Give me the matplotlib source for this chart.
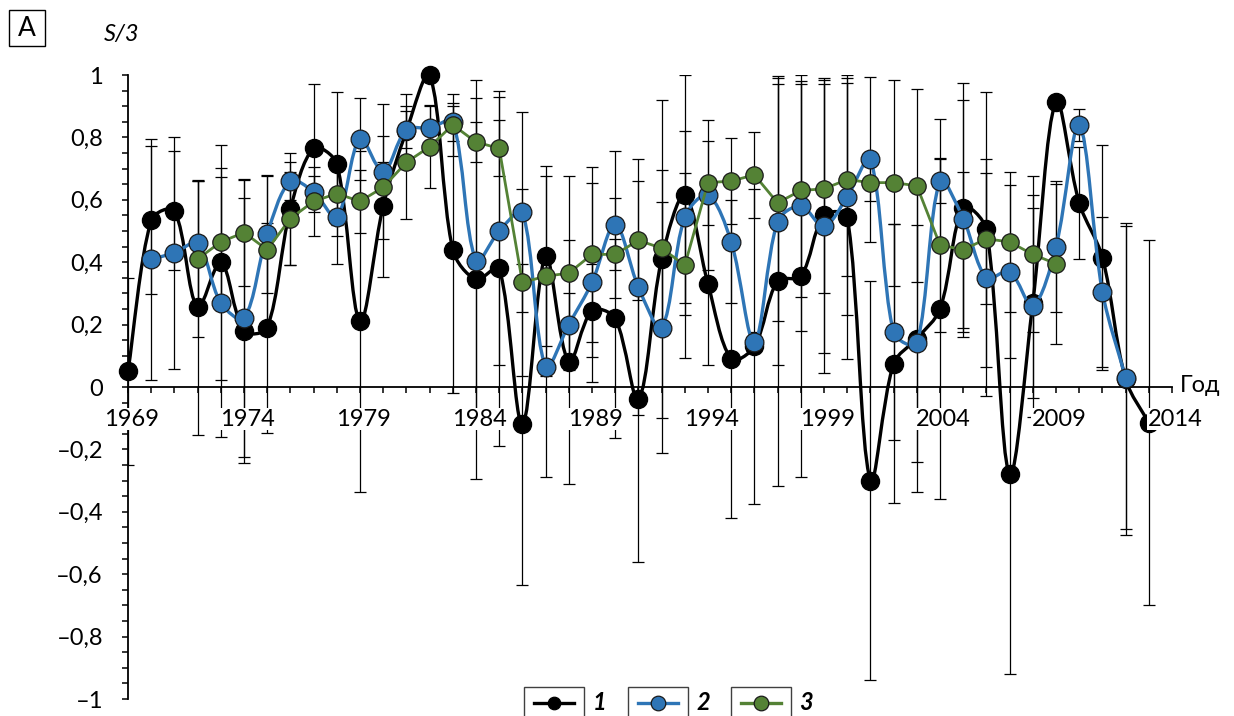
import numpy as np
import matplotlib.pyplot as plt
from matplotlib.path import Path
from matplotlib.patches import PathPatch, Rectangle
from matplotlib.lines import Line2D
from matplotlib.ticker import FixedLocator, MultipleLocator, NullFormatter

plt.rcParams['font.family'] = ['Lato', 'DejaVu Sans']

# серія 1 (чорна), 1969-2013
years1 = list(range(1969, 2014))
s1 = [0.05, 0.535, 0.565, 0.255, 0.40, 0.18, 0.19, 0.57, 0.765, 0.715,
      0.21, 0.58, 0.82, 1.0, 0.44, 0.345, 0.38, -0.12, 0.42, 0.08,
      0.245, 0.22, -0.04, 0.41, 0.615, 0.33, 0.09, 0.13, 0.34, 0.355,
      0.55, 0.545, -0.30, 0.075, 0.155, 0.25, 0.575, 0.505, -0.28, 0.27,
      0.915, 0.59, 0.415, 0.025, -0.115]
e1 = [0.30, 0.237, 0.19, 0.41, 0.376, 0.425, 0.336, 0.18, 0.205, 0.23,
      0.547, 0.226, 0.12, 0.0, 0.46, 0.64, 0.57, 0.515, 0.288, 0.39,
      0.15, 0.385, 0.52, 0.51, 0.385, 0.26, 0.51, 0.505, 0.657, 0.645,
      0.44, 0.455, 0.64, 0.447, 0.49, 0.61, 0.40, 0.44, 0.64, 0.305,
      0.0, 0.18, 0.36, 0.5, 0.585]

# серія 2 (синя), 1970-2012
years2 = list(range(1970, 2013))
s2 = [0.41, 0.43, 0.46, 0.27, 0.22, 0.49, 0.66, 0.625, 0.545, 0.795,
      0.69, 0.825, 0.83, 0.85, 0.405, 0.50, 0.56, 0.065, 0.20, 0.335,
      0.52, 0.32, 0.19, 0.545, 0.615, 0.465, 0.145, 0.53, 0.58, 0.515,
      0.61, 0.73, 0.175, 0.14, 0.66, 0.54, 0.35, 0.37, 0.26, 0.45,
      0.84, 0.305, 0.03]
e2 = [0.386, 0.371, 0.2, 0.431, 0.444, 0.19, 0.06, 0.05, 0.15, 0.13,
      0.217, 0.06, 0.07, 0.06, 0.52, 0.43, 0.32, 0.355, 0.10, 0.32,
      0.235, 0.41, 0.403, 0.275, 0.24, 0.195, 0.03, 0.46, 0.40, 0.47,
      0.38, 0.265, 0.346, 0.38, 0.07, 0.38, 0.38, 0.276, 0.355, 0.21,
      0.05, 0.24, 0.485]

# серія 3 (зелена), 1972-2009
years3 = list(range(1972, 2010))
s3 = [0.41, 0.465, 0.495, 0.44, 0.54, 0.595, 0.62, 0.595, 0.64, 0.72,
      0.77, 0.84, 0.785, 0.765, 0.335, 0.355, 0.365, 0.425, 0.425, 0.47,
      0.445, 0.39, 0.655, 0.66, 0.68, 0.59, 0.63, 0.635, 0.665, 0.655,
      0.655, 0.645, 0.455, 0.44, 0.475, 0.465, 0.425, 0.395]
e3 = [0.25, 0.208, 0.171, 0.236, 0.15, 0.11, 0.1, 0.1, 0.08, 0.18,
      0.133, 0.1, 0.065, 0.09, 0.3, 0.32, 0.31, 0.28, 0.05, 0.19,
      0.25, 0.297, 0.135, 0.137, 0.138, 0.38, 0.34, 0.335, 0.31, 0.06,
      0.33, 0.31, 0.28, 0.25, 0.21, 0.224, 0.25, 0.257]

x_ticks = [1969, 1974, 1979, 1984, 1989, 1994, 1999, 2004, 2009, 2014]
y_ticks = [-1, -0.8, -0.6, -0.4, -0.2, 0, 0.2, 0.4, 0.6, 0.8, 1]
y_labels = ['–1', '–0,8', '–0,6', '–0,4', '–0,2', '0', '0,2', '0,4', '0,6', '0,8', '1']

BLACK = '#000000'
BLUE = '#2E75B6'
GREEN = '#548235'

W, H = 1234, 716
AX_L, AX_R, AX_T, AX_B = 128, 1172, 75, 699
SX = (AX_R - AX_L) / 45.0   # пікселів на рік
SY = (AX_B - AX_T) / 2.0    # пікселів на одиницю


def smooth_path(x, y):
    # згладжування як у Excel: Безьє, плечі пропорційні довжинам відрізків на екрані
    pts = np.column_stack([np.asarray(x, float), np.asarray(y, float)])
    n = len(pts)

    def dist(a, b):
        return np.hypot((b[0] - a[0]) * SX, (b[1] - a[1]) * SY)

    verts = [pts[0]]
    codes = [Path.MOVETO]
    for i in range(n - 1):
        p0 = pts[max(i - 1, 0)]
        p1 = pts[i]
        p2 = pts[i + 1]
        p3 = pts[min(i + 2, n - 1)]
        d01, d12, d23 = dist(p0, p1), dist(p1, p2), dist(p2, p3)
        k1 = 2 * d12 / (d01 + d12) if d01 + d12 > 0 else 1
        k2 = 2 * d12 / (d12 + d23) if d12 + d23 > 0 else 1
        k1, k2 = min(k1, 1.5), min(k2, 1.5)
        verts += [p1 + (p2 - p0) / 6 * k1, p2 - (p3 - p1) / 6 * k2, p2]
        codes += [Path.CURVE4] * 3
    return Path(verts, codes)


fig = plt.figure(figsize=(W / 100, H / 100), dpi=100)
ax = fig.add_axes([AX_L / W, 1 - AX_B / H, (AX_R - AX_L) / W, (AX_B - AX_T) / H])
ax.set_xlim(1969, 2014)
ax.set_ylim(-1, 1)

for yrs, s, e in [(years1, s1, e1), (years2, s2, e2), (years3, s3, e3)]:
    ax.errorbar(yrs, s, yerr=e, fmt='none', ecolor='black', elinewidth=0.9,
                capsize=4.3, capthick=0.9, zorder=2)

ax.add_patch(PathPatch(smooth_path(years1, s1), fill=False, edgecolor=BLACK, lw=2.4,
                       zorder=3, clip_on=False))
ax.plot(years1, s1, 'o', ms=13, mfc=BLACK, mec=BLACK, zorder=4, clip_on=False)

ax.add_patch(PathPatch(smooth_path(years2, s2), fill=False, edgecolor=BLUE, lw=2.4,
                       zorder=5, clip_on=False))
ax.plot(years2, s2, 'o', ms=13.5, mfc=BLUE, mec='#1a1a1a', mew=0.9, zorder=6, clip_on=False)

ax.plot(years3, s3, '-o', color=GREEN, lw=2.0, ms=12.5, mfc=GREEN, mec='#1a1a1a', mew=0.9,
        zorder=7, clip_on=False)

# осі
for side in ['top', 'right']:
    ax.spines[side].set_visible(False)
ax.spines['bottom'].set_position(('data', 0))
ax.spines['left'].set_linewidth(1.3)
ax.spines['bottom'].set_linewidth(1.3)

ax.xaxis.set_major_locator(FixedLocator(x_ticks))
ax.xaxis.set_minor_locator(MultipleLocator(1))
ax.xaxis.set_major_formatter(NullFormatter())
ax.tick_params(axis='x', which='both', direction='out', length=4.5, width=1.1)

# підписи років на білому тлі, поверх даних (як у Excel)
for t in x_ticks:
    ax.annotate(str(t), xy=(t, 0), xycoords='data', xytext=(2.2, -15.5),
                textcoords='offset points', ha='center', va='top', fontsize=17,
                bbox=dict(facecolor='white', edgecolor='none', pad=0.6),
                zorder=10, annotation_clip=False)

ax.set_yticks(y_ticks)
ax.set_yticklabels(y_labels)
ax.yaxis.set_minor_locator(MultipleLocator(0.05))
ax.tick_params(axis='y', which='both', direction='out', length=4.5, width=1.1, pad=13.5, labelsize=17)

ax.annotate('Год', xy=(1, 0), xycoords=('axes fraction', 'data'), xytext=(6, 1),
            textcoords='offset points', ha='left', va='center', fontsize=17)

fig.text(122 / W, 1 - 35 / H, 'S/3', ha='center', va='center', fontsize=17, style='italic')

fig.add_artist(Rectangle((9 / W, 1 - 46 / H), 36 / W, 36 / H, transform=fig.transFigure,
                         fill=False, edgecolor='black', lw=1.0))
fig.text(27 / W, 1 - 29 / H, 'A', ha='center', va='center', fontsize=19)

# легенда
legend_items = [(524, BLACK, BLACK, 9, '1', 600),
                (628, BLUE, '#1a1a1a', 10.5, '2', 703),
                (731, GREEN, '#1a1a1a', 10.5, '3', 806)]
for bx, col, edge, ms, lab, tx in legend_items:
    fig.add_artist(Rectangle((bx / W, 1 - 725 / H), 60 / W, 38 / H, transform=fig.transFigure,
                             fill=False, edgecolor='#404040', lw=1.0))
    fig.add_artist(Line2D([(bx + 10) / W, (bx + 50) / W], [1 - 703 / H, 1 - 703 / H],
                          transform=fig.transFigure, color=col, lw=2.4))
    fig.add_artist(Line2D([(bx + 30) / W], [1 - 703 / H], transform=fig.transFigure,
                          marker='o', ms=ms, mfc=col, mec=edge, mew=0.9))
    fig.text(tx / W, 1 - 703 / H, lab, ha='center', va='center', fontsize=17,
             style='italic', weight='bold')

fig.savefig('out.png', dpi=100)
